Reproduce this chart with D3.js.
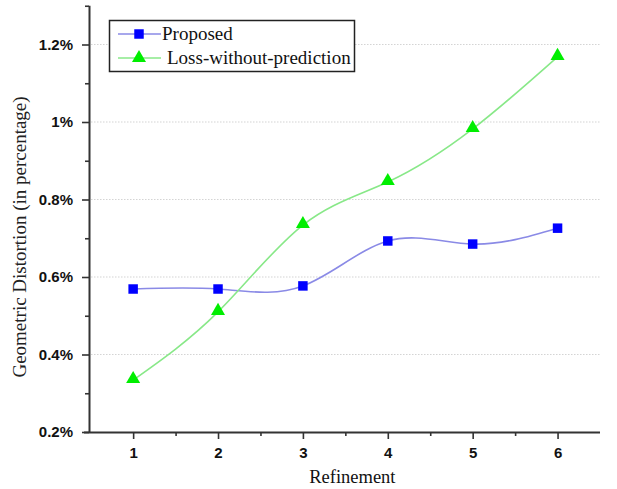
<!DOCTYPE html>
<html>
<head>
<meta charset="utf-8">
<script src="https://cdn.jsdelivr.net/npm/d3@7/dist/d3.min.js"></script>
<style>
  html, body { margin: 0; padding: 0; background: #fff; }
  svg { display: block; }
</style>
</head>
<body>
<svg id="chart" width="617" height="489"></svg>
<script>
// Geometric distortion per refinement level, in percent
const refinements = [1, 2, 3, 4, 5, 6];
const proposed = [0.569, 0.569, 0.577, 0.693, 0.685, 0.726];
const lossWithoutPrediction = [0.334, 0.510, 0.734, 0.845, 0.982, 1.168];
const yTicks = [0.2, 0.4, 0.6, 0.8, 1.0, 1.2];
const yTickLabels = ["0.2%", "0.4%", "0.6%", "0.8%", "1%", "1.2%"];
const seriesNames = ["Proposed", "Loss-without-prediction"];

const svg = d3.select("#chart");
const plotLeft = 89, plotRight = 600, plotTop = 5.75, plotBottom = 432;

const x = d3.scaleLinear().domain([0.48, 6.5]).range([plotLeft, plotRight]);
const y = d3.scaleLinear().domain([0.2, 1.3]).range([plotBottom, plotTop]);

// dotted horizontal grid
svg.append("g").selectAll("line")
  .data(yTicks.slice(1))
  .join("line")
  .attr("x1", plotLeft + 2).attr("x2", plotRight)
  .attr("y1", d => y(d)).attr("y2", d => y(d))
  .attr("stroke", "#d4d4d4").attr("stroke-width", 1.2)
  .attr("stroke-dasharray", "1.5,1.5");

// y axis with major and minor ticks
const yAxis = d3.axisLeft(y).tickValues(yTicks)
  .tickFormat((d, i) => yTickLabels[i]).tickSize(7).tickPadding(9);
const yMinor = d3.axisLeft(y).tickValues([0.3, 0.5, 0.7, 0.9, 1.1, 1.3])
  .tickFormat("").tickSize(4);
const gy = svg.append("g").attr("transform", `translate(${plotLeft},0)`).call(yAxis);
svg.append("g").attr("transform", `translate(${plotLeft},0)`).call(yMinor)
  .select(".domain").remove();

// x axis with major and minor ticks
const xAxis = d3.axisBottom(x).tickValues(refinements)
  .tickFormat(d3.format("d")).tickSize(7).tickPadding(8);
const xMinor = d3.axisBottom(x).tickValues([1.5, 2.5, 3.5, 4.5, 5.5])
  .tickFormat("").tickSize(4);
const gx = svg.append("g").attr("transform", `translate(0,${plotBottom})`).call(xAxis);
svg.append("g").attr("transform", `translate(0,${plotBottom})`).call(xMinor)
  .select(".domain").remove();

svg.selectAll(".domain").attr("stroke", "#333").attr("stroke-width", 2);
gx.select(".domain").attr("d", `M${plotLeft - 5},0.5H${plotRight}`);
gy.select(".domain").attr("d", `M0.5,${plotBottom}V${plotTop}`);
svg.selectAll(".tick line").attr("stroke", "#333").attr("stroke-width", 1.6);
svg.selectAll(".tick text")
  .attr("font-family", "Liberation Sans, Arial, sans-serif")
  .attr("font-weight", "bold").attr("font-size", 15).attr("fill", "#111");

// axis titles
svg.append("text")
  .attr("x", x(3.5) + 7).attr("y", 483)
  .attr("text-anchor", "middle")
  .attr("font-family", "Liberation Serif, Times New Roman, serif")
  .attr("font-size", 18.5).attr("fill", "#111")
  .text("Refinement");
svg.append("text")
  .attr("transform", `translate(26,237) rotate(-90)`)
  .attr("text-anchor", "middle")
  .attr("font-family", "Liberation Serif, Times New Roman, serif")
  .attr("font-size", 19).attr("fill", "#222")
  .text("Geometric Distortion (in percentage)");

// series
const line = d3.line().x((d, i) => x(refinements[i])).y(d => y(d)).curve(d3.curveNatural);

svg.append("path").datum(proposed).attr("d", line)
  .attr("fill", "none").attr("stroke", "#8a8ae6").attr("stroke-width", 1.6);
svg.append("path").datum(lossWithoutPrediction).attr("d", line)
  .attr("fill", "none").attr("stroke", "#88e888").attr("stroke-width", 1.6);

const sq = d3.symbol().type(d3.symbolSquare).size(90);
const tri = d3.symbol().type(d3.symbolTriangle).size(85);

svg.append("g").selectAll("path").data(proposed).join("path")
  .attr("d", sq)
  .attr("transform", (d, i) => `translate(${x(refinements[i])},${y(d)})`)
  .attr("fill", "#0000ff");
svg.append("g").selectAll("path").data(lossWithoutPrediction).join("path")
  .attr("d", tri)
  .attr("transform", (d, i) => `translate(${x(refinements[i])},${y(d) - 1})`)
  .attr("fill", "#00ee00");

// legend
const legend = svg.append("g");
legend.append("rect")
  .attr("x", 109.5).attr("y", 20.5).attr("width", 245).attr("height", 51)
  .attr("fill", "#fff").attr("stroke", "#222").attr("stroke-width", 1.5);
const items = [
  { color: "#8a8ae6", mark: "#0000ff", shape: sq, tx: 162 },
  { color: "#88e888", mark: "#00ee00", shape: tri, tx: 167 }
];
items.forEach((it, i) => {
  const cy = 34 + i * 24;
  legend.append("line").attr("x1", 118).attr("x2", 161).attr("y1", cy).attr("y2", cy)
    .attr("stroke", it.color).attr("stroke-width", 1.6);
  legend.append("path").attr("d", it.shape)
    .attr("transform", `translate(139,${cy})`).attr("fill", it.mark);
  legend.append("text").attr("x", it.tx).attr("y", cy + 6)
    .attr("font-family", "Liberation Serif, Times New Roman, serif")
    .attr("font-size", 19).attr("fill", "#111")
    .text(seriesNames[i]);
});
</script>
</body>
</html>
